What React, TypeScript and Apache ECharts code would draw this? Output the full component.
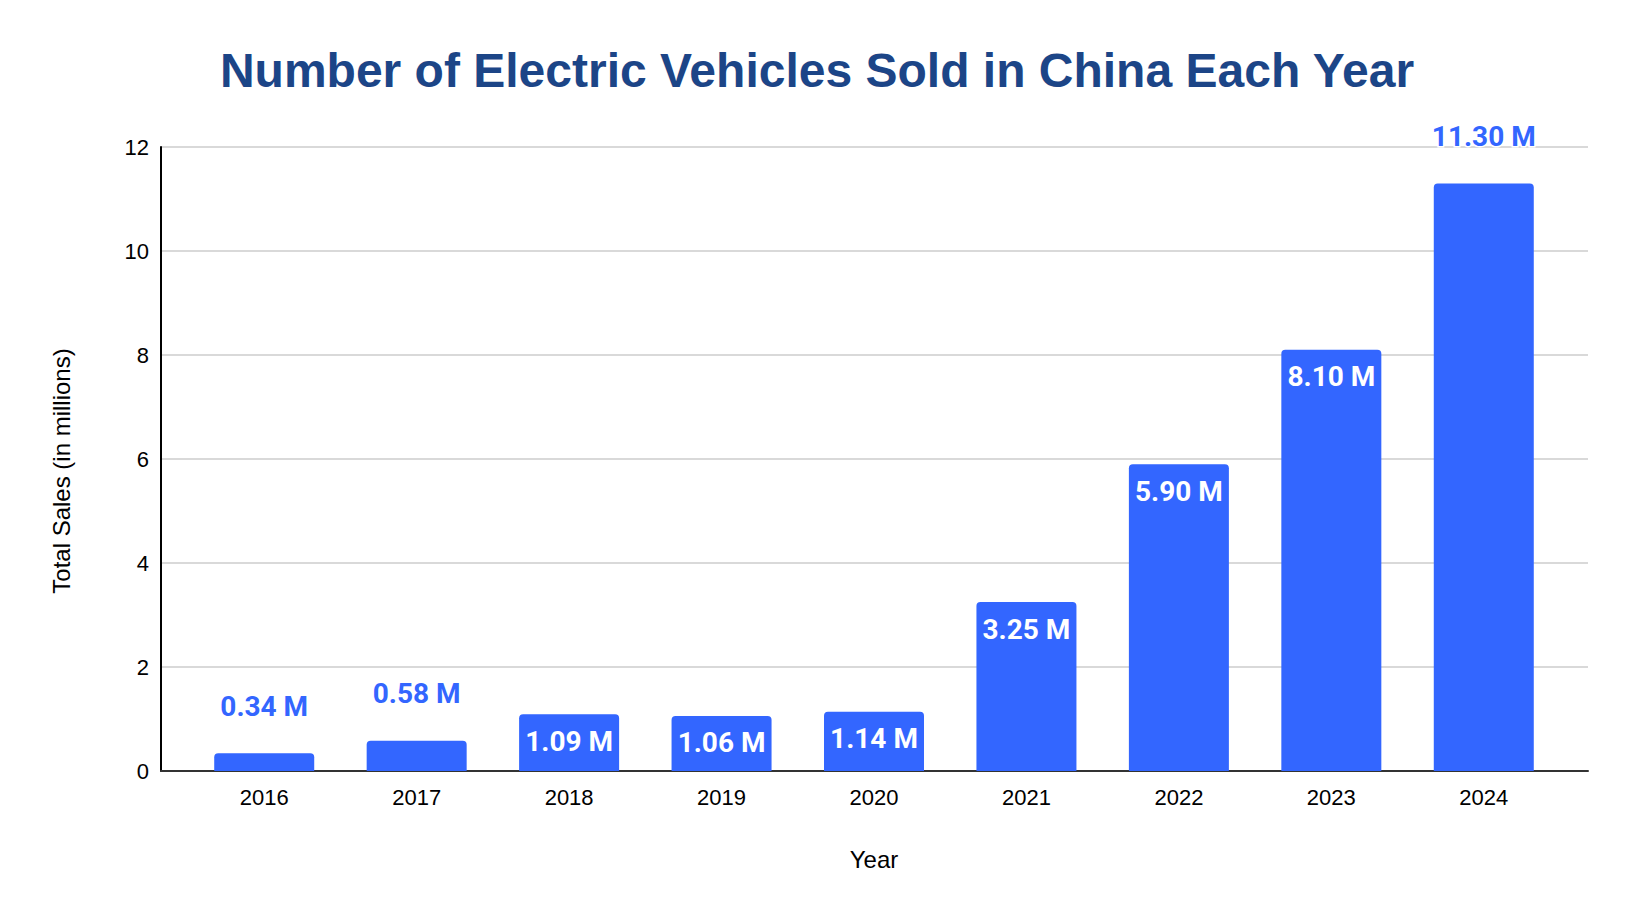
import * as echarts from "echarts";
import { useEffect, useRef } from "react";

const years: string[] = ["2016", "2017", "2018", "2019", "2020", "2021", "2022", "2023", "2024"];
const sales: number[] = [0.34, 0.58, 1.09, 1.06, 1.14, 3.25, 5.9, 8.1, 11.3];
// years whose value label sits above the bar instead of inside it
const outsideLabelYears: string[] = ["2016", "2017", "2024"];

const BAR_COLOR = "#3366ff";
const SANS = "'Liberation Sans', Arial, sans-serif";

const App = () => {
  const chartRef = useRef<HTMLDivElement | null>(null);

  useEffect(() => {
    const chart = echarts.init(chartRef.current, null, { renderer: "svg" });

    const barData = sales.map((v, i) => {
      const outside = outsideLabelYears.includes(years[i]);
      return {
        value: v,
        label: outside
          ? {
              position: "top",
              distance: 33,
              color: BAR_COLOR,
              textBorderColor: "#fff",
              textBorderWidth: 3,
            }
          : {
              position: "insideTop",
              distance: 13,
              color: "#fff",
            },
      };
    });

    chart.setOption({
      animation: false,
      backgroundColor: "#fff",
      title: {
        text: "Number of Electric Vehicles Sold in China Each Year",
        left: "center",
        top: 41,
        textStyle: {
          fontFamily: SANS,
          fontSize: 48,
          fontWeight: "bold",
          color: "#1c4587",
        },
      },
      // grid 0: full-width frame (axis lines, gridlines, y labels)
      // grid 1: inset band where the bars sit
      grid: [
        { left: 161, right: 46, top: 147, bottom: 149 },
        { left: 188, right: 74, top: 147, bottom: 149 },
      ],
      xAxis: [
        {
          gridIndex: 0,
          type: "value",
          min: 0,
          max: 1,
          axisLine: { show: true, onZero: false, lineStyle: { color: "#333", width: 2 } },
          axisTick: { show: false },
          axisLabel: { show: false },
          splitLine: { show: false },
        },
        {
          gridIndex: 1,
          type: "category",
          data: years,
          name: "Year",
          nameLocation: "middle",
          nameGap: 76,
          nameTextStyle: { fontFamily: SANS, fontSize: 24, color: "#000" },
          axisTick: { show: false },
          axisLine: { show: false },
          axisLabel: { fontFamily: SANS, fontSize: 22, color: "#000", margin: 15 },
        },
      ],
      yAxis: [
        {
          gridIndex: 0,
          type: "value",
          min: 0,
          max: 12,
          interval: 2,
          name: "Total Sales (in millions)",
          nameLocation: "middle",
          nameRotate: 90,
          nameGap: 88,
          nameTextStyle: {
            fontFamily: SANS,
            fontSize: 24,
            color: "#000",
            padding: [0, 24, 0, 0],
          },
          axisLine: { show: true, lineStyle: { color: "#000", width: 2 } },
          axisTick: { show: false },
          axisLabel: { fontFamily: SANS, fontSize: 22, color: "#000", margin: 12 },
          splitLine: { show: true, lineStyle: { color: "#cccccc", width: 1.5 } },
        },
        {
          gridIndex: 1,
          type: "value",
          min: 0,
          max: 12,
          interval: 2,
          show: false,
          splitLine: { show: false },
        },
      ],
      series: [
        {
          type: "bar",
          xAxisIndex: 1,
          yAxisIndex: 1,
          data: barData,
          barWidth: 100,
          itemStyle: { color: BAR_COLOR, borderRadius: [4, 4, 0, 0] },
          label: {
            show: true,
            fontFamily: "Roboto, 'Liberation Sans', Arial, sans-serif",
            fontSize: 28,
            fontWeight: "bold",
            formatter: (p: any) => `${Number(p.value).toFixed(2)} M`,
          },
        },
      ],
    });

    return () => {
      chart.dispose();
    };
  }, []);

  return (
    <div
      ref={chartRef}
      style={{ position: "fixed", left: 0, top: 0, width: "1634px", height: "920px" }}
    ></div>
  );
};

export default App;
